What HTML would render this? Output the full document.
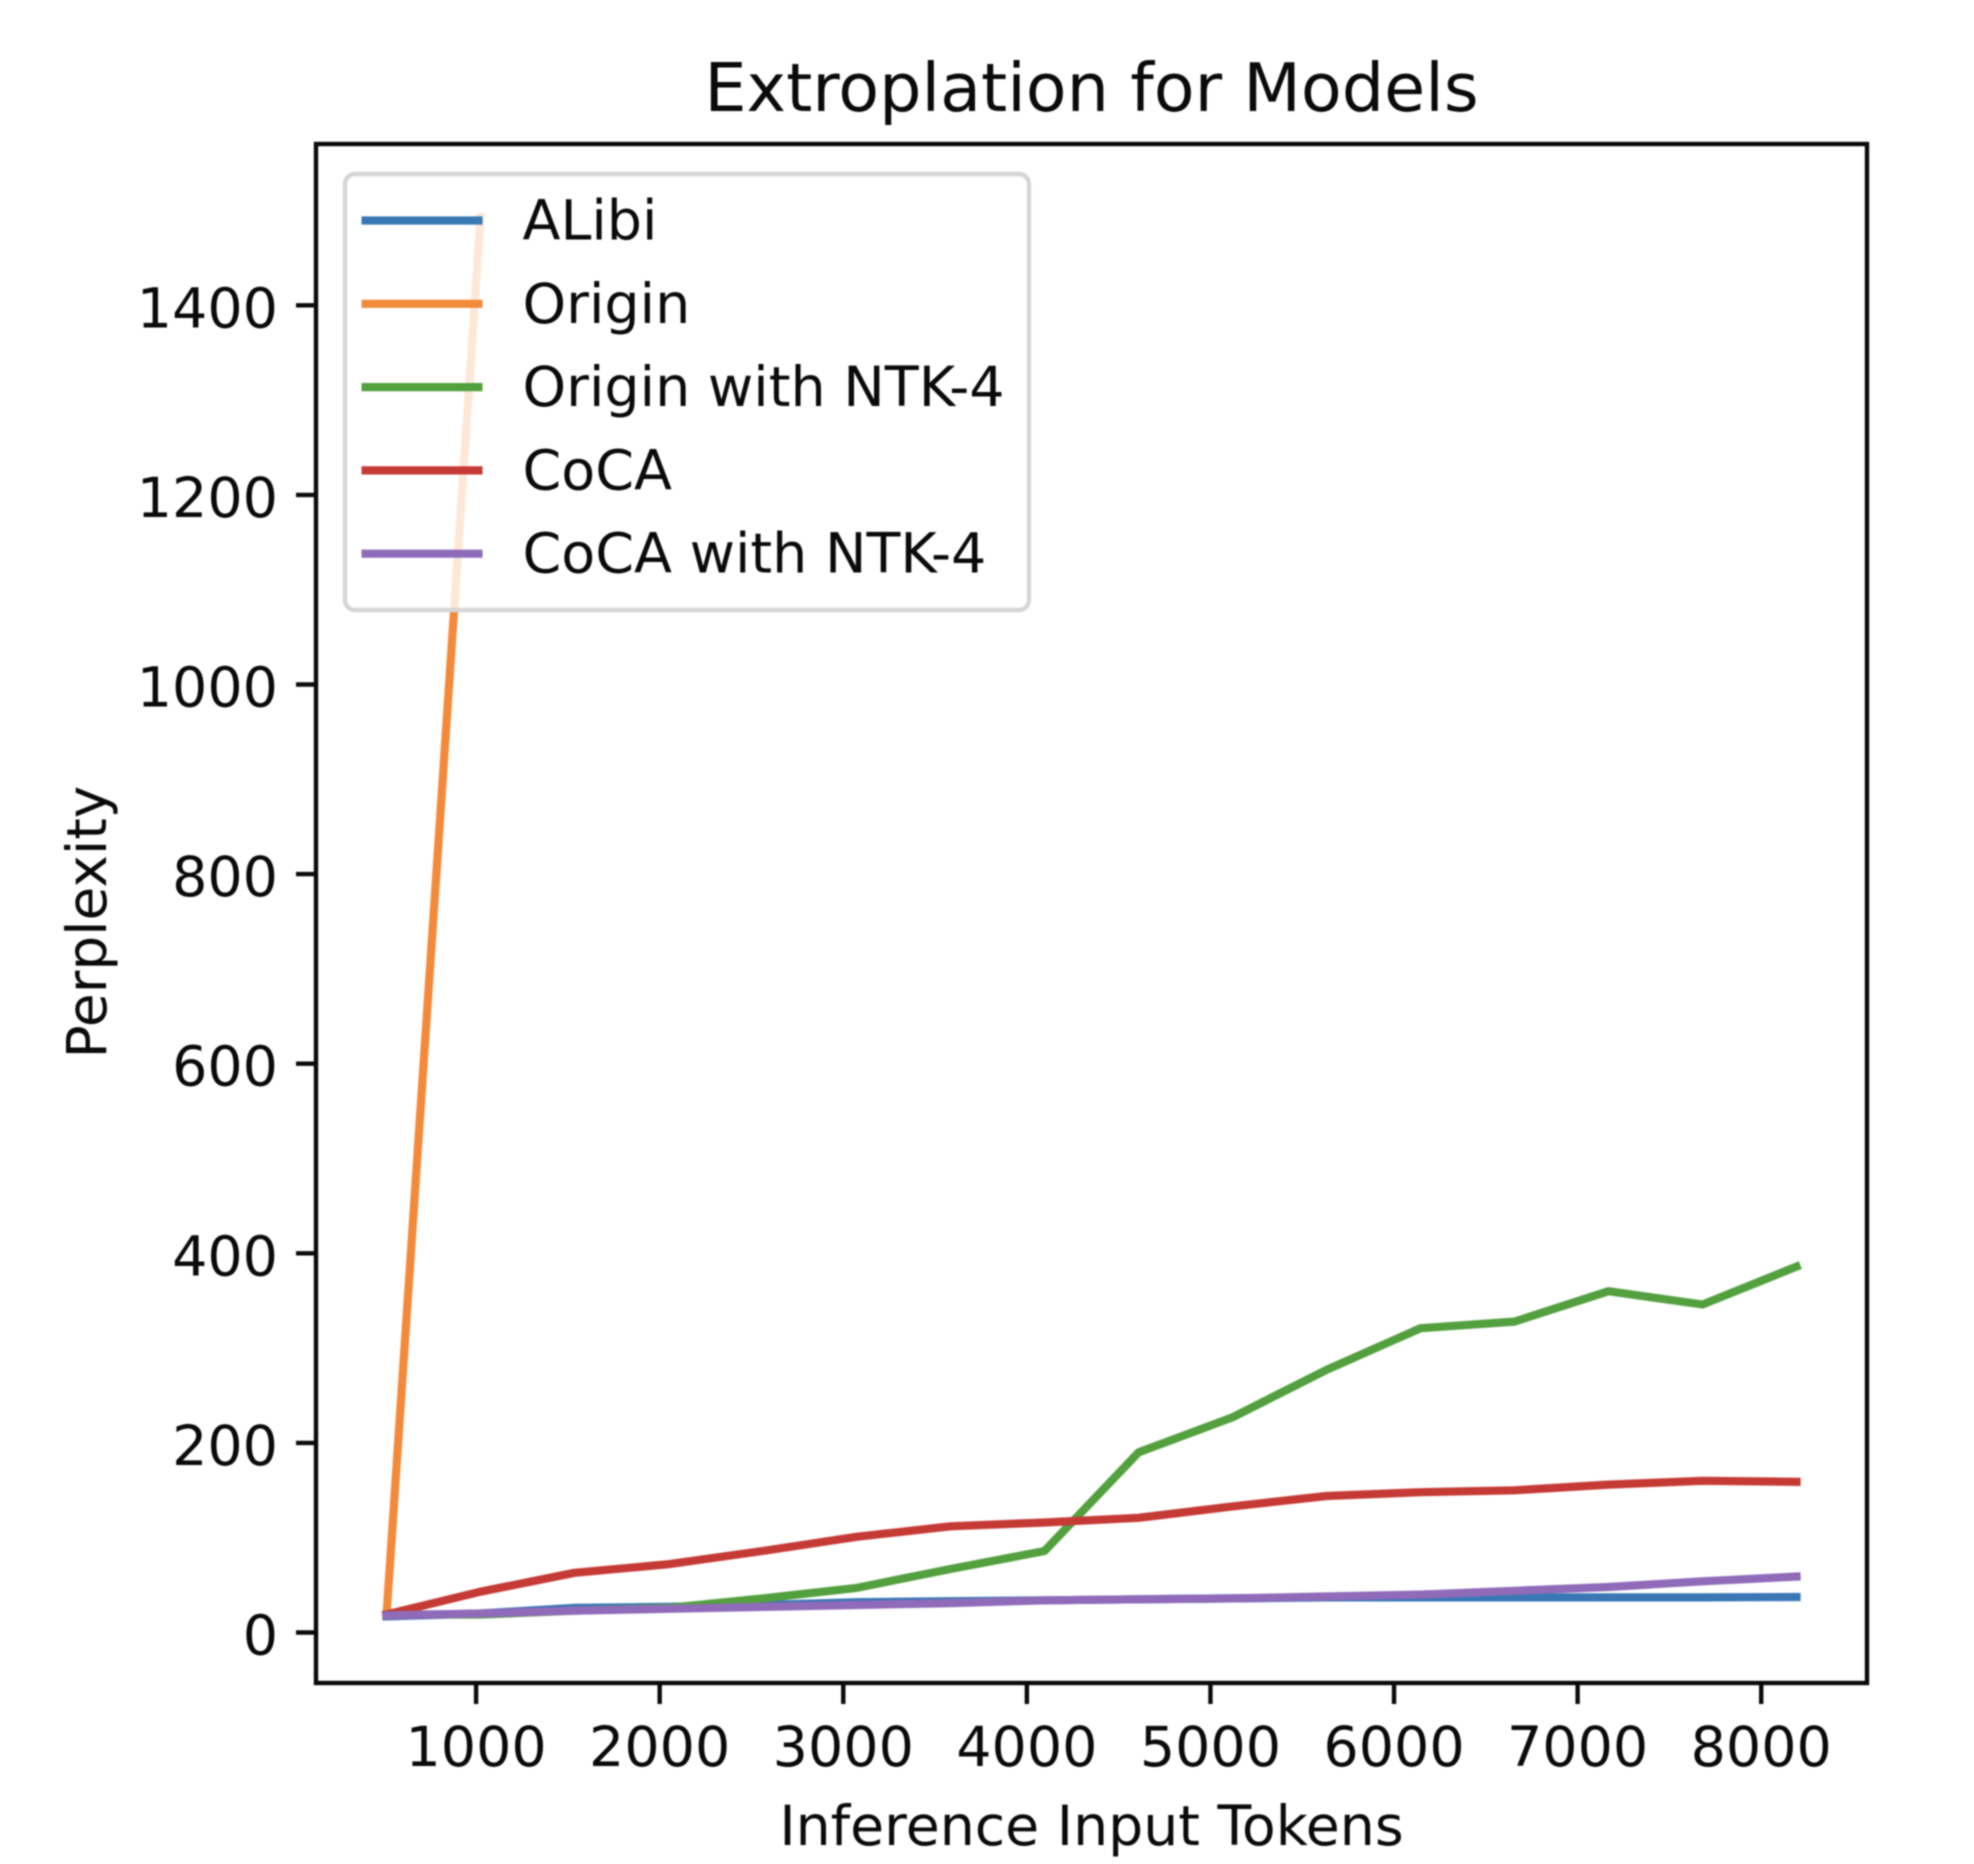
<!DOCTYPE html>
<html>
<head>
<meta charset="utf-8">
<title>Extroplation for Models</title>
<style>
  html, body { margin: 0; padding: 0; background: #ffffff; }
  svg { display: block; filter: blur(0.8px); }
  text { font-family: "DejaVu Sans", "Liberation Sans", sans-serif; fill: #0a0a0a; }
</style>
</head>
<body>
<svg id="chart" xmlns="http://www.w3.org/2000/svg" width="1974" height="1864" viewBox="0 0 1974 1864">
  <rect x="0" y="0" width="1974" height="1864" fill="#ffffff"/>
  <defs>
    <clipPath id="plot-clip"><rect x="316" y="144" width="1551" height="1539"/></clipPath>
  </defs>
  <text x="1091.5" y="111" font-size="66.8" text-anchor="middle">Extroplation for Models</text>
  <g id="series-layer" clip-path="url(#plot-clip)"></g>
  <g id="legend"></g>
  <g id="x-ticks"></g>
  <g id="y-ticks"></g>
  <rect x="316" y="144" width="1551" height="1539" fill="none" stroke="#0a0a0a" stroke-width="4.4"/>
  <text x="1091.5" y="1845" font-size="55.3" text-anchor="middle">Inference Input Tokens</text>
  <text transform="translate(106 922) rotate(-90)" font-size="55" text-anchor="middle">Perplexity</text>
</svg>
<script>
const tokens = [512, 1024, 1536, 2048, 2560, 3072, 3584, 4096, 4608, 5120, 5632, 6144, 6656, 7168, 7680, 8192];
const alibi = [17, 20, 26, 27, 29, 32, 33, 34, 35, 36, 37, 37, 37, 37, 37, 37.5];
const origin = [18, 1493];
const originNtk = [19, 19, 23, 26, 36, 47, 67, 86, 190, 227, 277, 321, 328, 360, 346, 386];
const coca = [19, 43, 63, 72, 86, 101, 112, 116, 121, 133, 144, 148, 150, 156, 160, 159];
const cocaNtk = [18, 20, 23, 25, 27, 29, 31, 34, 35, 36, 38, 40, 44, 48, 54, 59];
const seriesNames = ["ALibi", "Origin", "Origin with NTK-4", "CoCA", "CoCA with NTK-4"];
const seriesSlugs = ["alibi", "origin", "origin-ntk-4", "coca", "coca-ntk-4"];
const seriesColors = ["#3a78b5", "#f28a3a", "#53a03f", "#c63a35", "#8f6bb9"];
const xTickValues = [1000, 2000, 3000, 4000, 5000, 6000, 7000, 8000];
const yTickValues = [0, 200, 400, 600, 800, 1000, 1200, 1400];

const allSeries = [alibi, origin, originNtk, coca, cocaNtk];
const NS = "http://www.w3.org/2000/svg";
function xScale(v) { return 316 + (v - 128) * 0.18359; }
function yScale(v) { return 1632.5 - v * 0.948; }
function make(tag, attrs, parent) {
  const el = document.createElementNS(NS, tag);
  for (const k in attrs) el.setAttribute(k, attrs[k]);
  parent.appendChild(el);
  return el;
}

const seriesLayer = document.getElementById("series-layer");
allSeries.forEach(function (values, i) {
  const pts = values.map(function (v, j) { return xScale(tokens[j]).toFixed(1) + "," + yScale(v).toFixed(1); }).join(" ");
  const line = make("polyline", { points: pts, fill: "none", stroke: seriesColors[i], "stroke-width": 8.2, "stroke-linejoin": "round", "stroke-linecap": "square" }, seriesLayer);
  
  
});

const legend = document.getElementById("legend");
const legendBox = make("rect", { x: 345, y: 174, width: 684, height: 436, rx: 10, ry: 10, fill: "rgba(255,255,255,0.8)", stroke: "#d6d6d6", "stroke-width": 4.4 }, legend);


seriesNames.forEach(function (name, i) {
  const rowY = 220.5 + i * 83.3;
  const swatch = make("line", { x1: 361.5, x2: 482.5, y1: rowY, y2: rowY, stroke: seriesColors[i], "stroke-width": 8.2 }, legend);
  
  
  const label = make("text", { x: 522.5, y: rowY + 19, "font-size": 55.5 }, legend);
  label.textContent = name;
  
  
});

const xTicks = document.getElementById("x-ticks");
xTickValues.forEach(function (v) {
  const x = xScale(v);
  const tick = make("line", { x1: x, x2: x, y1: 1683, y2: 1704, stroke: "#0a0a0a", "stroke-width": 4.4 }, xTicks);
  
  
  const label = make("text", { x: x, y: 1766, "font-size": 55.5, "text-anchor": "middle" }, xTicks);
  label.textContent = String(v);
  
  
});

const yTicks = document.getElementById("y-ticks");
yTickValues.forEach(function (v) {
  const y = yScale(v);
  const tick = make("line", { x1: 296, x2: 316, y1: y, y2: y, stroke: "#0a0a0a", "stroke-width": 4.4 }, yTicks);
  
  
  const label = make("text", { x: 278, y: y + 22, "font-size": 55.5, "text-anchor": "end" }, yTicks);
  label.textContent = String(v);
  
  
});
</script>
</body>
</html>
